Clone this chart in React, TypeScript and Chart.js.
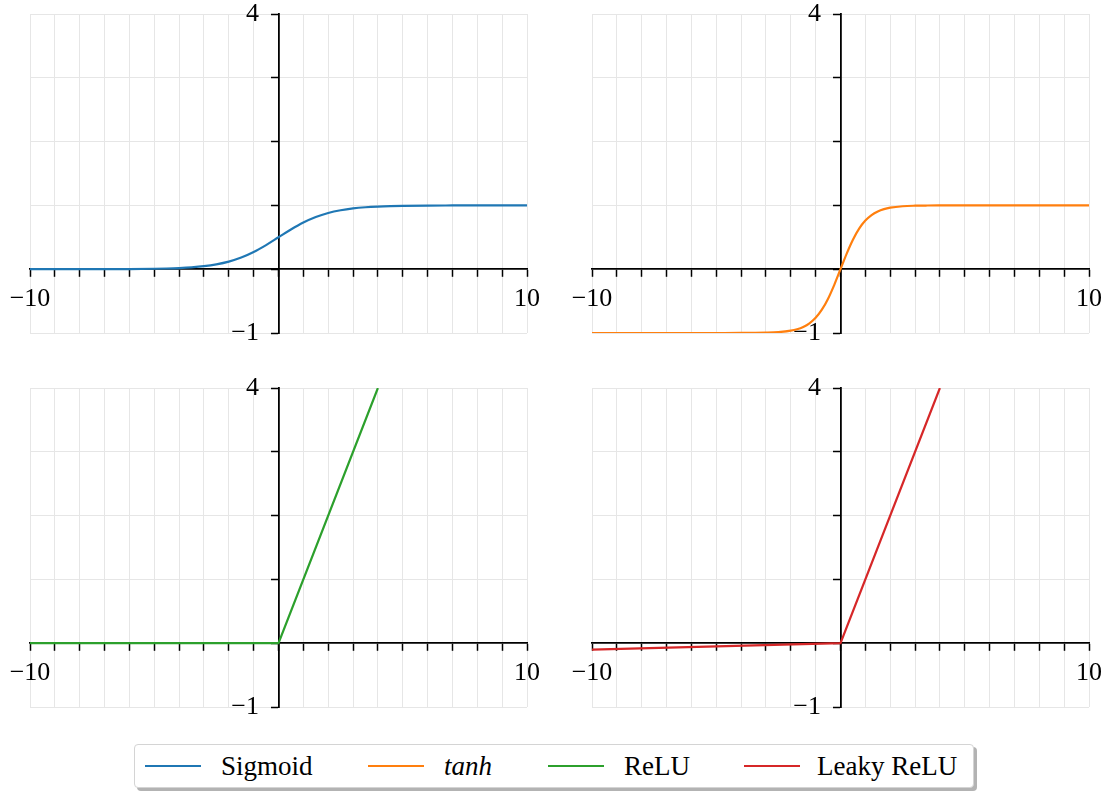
import React, { useEffect, useRef } from 'react';
import { Chart, registerables } from 'chart.js';

Chart.register(...registerables);

// ---- data ----
const xMin = -10;
const xMax = 10;
const yMin = -1;
const yMax = 4;
const xTickLabels = ['\u221210', '10'];
const yTickLabels = ['\u22121', '4'];

const sigmoidX = [-10, -9, -8, -7, -6, -5, -4.5, -4, -3.5, -3, -2.5, -2, -1.5, -1, -0.5, 0, 0.5, 1, 1.5, 2, 2.5, 3, 3.5, 4, 4.5, 5, 6, 7, 8, 9, 10];
const sigmoidY = [0.00005, 0.00012, 0.00034, 0.00091, 0.0025, 0.0067, 0.011, 0.018, 0.029, 0.047, 0.076, 0.119, 0.182, 0.269, 0.378, 0.5, 0.622, 0.731, 0.818, 0.881, 0.924, 0.953, 0.971, 0.982, 0.989, 0.9933, 0.9975, 0.9991, 0.9997, 0.9999, 0.99995];

const tanhX = [-10, -8, -6, -5, -4, -3.5, -3, -2.5, -2, -1.75, -1.5, -1.25, -1, -0.75, -0.5, -0.25, 0, 0.25, 0.5, 0.75, 1, 1.25, 1.5, 1.75, 2, 2.5, 3, 3.5, 4, 5, 6, 8, 10];
const tanhY = [-1, -1, -1, -0.9999, -0.9993, -0.9982, -0.9951, -0.9866, -0.964, -0.9414, -0.9051, -0.8483, -0.7616, -0.6351, -0.4621, -0.2449, 0, 0.2449, 0.4621, 0.6351, 0.7616, 0.8483, 0.9051, 0.9414, 0.964, 0.9866, 0.9951, 0.9982, 0.9993, 0.9999, 1, 1, 1];

const reluX = [-10, 0, 4];
const reluY = [0, 0, 4];

const leakyX = [-10, 0, 4];
const leakyY = [-0.1, 0, 4];

const seriesNames = ['Sigmoid', 'tanh', 'ReLU', 'Leaky ReLU'];
const seriesColors = ['#1f77b4', '#ff7f0e', '#2ca02c', '#d62728'];

// ---- layout ----
const FONT = "'Liberation Serif', 'Times New Roman', serif";
// gap between the y tick labels and the centred y axis
const Y_LABEL_GAP = '   ';

type PanelProps = {
  xs: number[];
  ys: number[];
  color: string;
  label: string;
  smooth: boolean;
  left: number;
  top: number;
  width: number;
  height: number;
  padding: { left: number; right: number; top: number; bottom: number };
};

function Panel(props: PanelProps) {
  const ref = useRef<HTMLCanvasElement | null>(null);
  useEffect(() => {
    if (!ref.current) return;
    const gridColor = (ctx: any) =>
      ctx.tick && ctx.tick.value === 0 ? 'rgba(0,0,0,0)' : '#e6e6e6';
    const chart = new Chart(ref.current, {
      type: 'line',
      data: {
        datasets: [
          {
            label: props.label,
            data: props.xs.map((x, i) => ({ x, y: props.ys[i] })),
            borderColor: props.color,
            backgroundColor: props.color,
            borderWidth: 2.2,
            pointRadius: 0,
            fill: false,
            tension: 0,
            cubicInterpolationMode: props.smooth ? 'monotone' : 'default',
          } as any,
        ],
      },
      options: {
        responsive: false,
        animation: false,
        layout: { padding: props.padding },
        plugins: { legend: { display: false }, tooltip: { enabled: false } },
        scales: {
          x: {
            type: 'linear',
            position: { y: 0 } as any,
            min: xMin,
            max: xMax,
            ticks: {
              stepSize: 1,
              autoSkip: false,
              maxRotation: 0,
              color: '#000',
              padding: 0,
              font: { family: FONT, size: 26, lineHeight: 46 / 26 },
              callback: (v: any) =>
                v === xMin ? xTickLabels[0] : v === xMax ? xTickLabels[1] : '',
            },
            grid: {
              color: gridColor,
              lineWidth: 1,
              tickColor: '#000',
              tickLength: 7,
              tickWidth: 1.5,
            },
            border: { color: '#000', width: 1.8 },
          },
          y: {
            type: 'linear',
            position: { x: 0 } as any,
            min: yMin,
            max: yMax,
            ticks: {
              stepSize: 1,
              autoSkip: false,
              color: '#000',
              padding: 0,
              font: { family: FONT, size: 26, lineHeight: 1 },
              callback: (v: any) =>
                v === yMin
                  ? yTickLabels[0] + Y_LABEL_GAP
                  : v === yMax
                  ? yTickLabels[1] + Y_LABEL_GAP
                  : '',
            },
            grid: {
              color: gridColor,
              lineWidth: 1,
              tickColor: '#000',
              tickLength: 7,
              tickWidth: 1.5,
            },
            border: { color: '#000', width: 1.8 },
          },
        },
      },
    });
    return () => chart.destroy();
  }, []);
  return (
    <canvas
      ref={ref}
      width={props.width}
      height={props.height}
      style={{
        position: 'absolute',
        left: props.left,
        top: props.top,
        width: props.width,
        height: props.height,
      }}
    />
  );
}

const legendLineLefts = [10, 233, 413, 609];
const legendTextLefts = [86, 309, 489, 682];

export default function App() {
  const padL = { left: 30, right: 33, top: 14, bottom: 39 };
  const padR = { left: 30, right: 16, top: 14, bottom: 39 };
  const padLB = { left: 30, right: 33, top: 14, bottom: 33 };
  const padRB = { left: 30, right: 16, top: 14, bottom: 33 };
  return (
    <div
      style={{
        position: 'absolute',
        left: 0,
        top: 0,
        width: 1105,
        height: 794,
        background: '#fff',
        overflow: 'hidden',
      }}
    >
      <Panel xs={sigmoidX} ys={sigmoidY} color={seriesColors[0]} label={seriesNames[0]} smooth={true}
        left={0} top={0} width={560} height={372} padding={padL} />
      <Panel xs={tanhX} ys={tanhY} color={seriesColors[1]} label={seriesNames[1]} smooth={true}
        left={562} top={0} width={543} height={372} padding={padR} />
      <Panel xs={reluX} ys={reluY} color={seriesColors[2]} label={seriesNames[2]} smooth={false}
        left={0} top={374} width={560} height={366} padding={padLB} />
      <Panel xs={leakyX} ys={leakyY} color={seriesColors[3]} label={seriesNames[3]} smooth={false}
        left={562} top={374} width={543} height={366} padding={padRB} />
      <div
        style={{
          position: 'absolute',
          left: 134,
          top: 744,
          width: 840,
          height: 44,
          boxSizing: 'border-box',
          border: '1.5px solid #d4d4d4',
          borderRadius: 4,
          boxShadow: '3px 3px 0 #b3b3b3',
          background: '#fff',
          fontFamily: FONT,
          fontSize: 27,
          color: '#000',
        }}
      >
        {seriesNames.map((name, i) => (
          <React.Fragment key={name}>
            <div
              style={{
                position: 'absolute',
                left: legendLineLefts[i],
                top: 20,
                width: 56,
                height: 2,
                background: seriesColors[i],
              }}
            />
            <div
              style={{
                position: 'absolute',
                left: legendTextLefts[i],
                top: 5,
                lineHeight: '32px',
                whiteSpace: 'nowrap',
                fontStyle: name === 'tanh' ? 'italic' : 'normal',
              }}
            >
              {name}
            </div>
          </React.Fragment>
        ))}
      </div>
    </div>
  );
}
